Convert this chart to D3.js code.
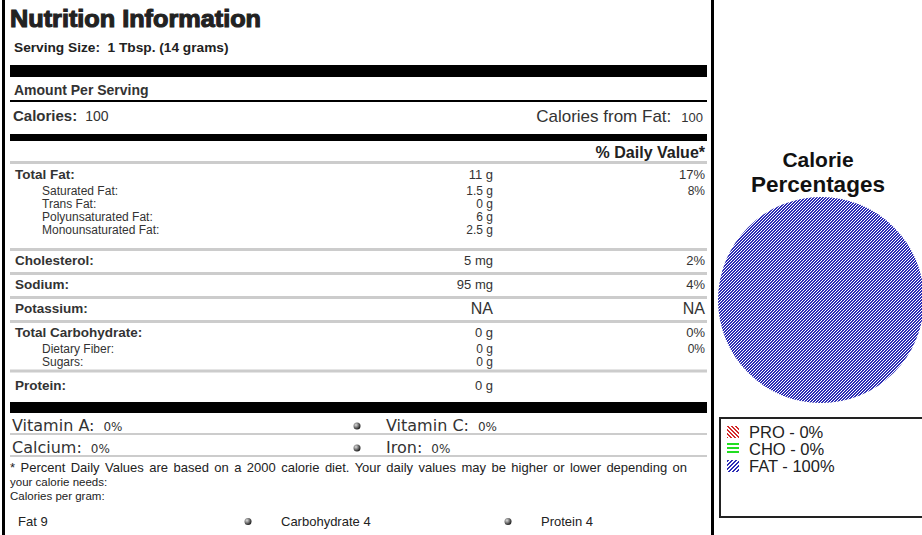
<!DOCTYPE html>
<html>
<head>
<meta charset="utf-8">
<script src="https://cdn.jsdelivr.net/npm/d3@7"></script>
<style>
  body { margin: 0; background: #fff; }
  svg { display: block; font-family: "Liberation Sans", Arial, sans-serif; }
</style>
</head>
<body>
<div id="chart"></div>
<script>
// Label rows
var nutrients = ["Total Fat:", "Saturated Fat:", "Trans Fat:", "Polyunsaturated Fat:", "Monounsaturated Fat:",
                 "Cholesterol:", "Sodium:", "Potassium:", "Total Carbohydrate:", "Dietary Fiber:", "Sugars:", "Protein:"];
var amounts = ["11 g", "1.5 g", "0 g", "6 g", "2.5 g", "5 mg", "95 mg", "NA", "0 g", "0 g", "0 g", "0 g"];
var dailyValues = ["17%", "8%", "", "", "", "2%", "4%", "NA", "0%", "0%", "", ""];
var subRow = [false, true, true, true, true, false, false, false, false, true, true, false];

var vitamins = ["Vitamin A:", "Vitamin C:", "Calcium:", "Iron:"];
var vitaminValues = ["0%", "0%", "0%", "0%"];

var perGram = ["Fat 9", "Carbohydrate 4", "Protein 4"];

var macroLabels = ["PRO", "CHO", "FAT"];
var macroPercents = [0, 0, 100];

var width = 922, height = 535;

var svg = d3.select("#chart").append("svg")
    .attr("width", width)
    .attr("height", height);

var defs = svg.append("defs");

// crisp pixel hatch patterns: test(x, y) says which pixels are coloured
function hatch(id, color, n, test) {
  var p = defs.append("pattern")
      .attr("id", id)
      .attr("patternUnits", "userSpaceOnUse")
      .attr("width", n).attr("height", n);
  p.append("rect").attr("width", n).attr("height", n).attr("fill", "#fff");
  for (var x = 0; x < n; x++) {
    for (var y = 0; y < n; y++) {
      if (test(x, y)) {
        p.append("rect").attr("x", x).attr("y", y).attr("width", 1).attr("height", 1)
          .attr("fill", color).attr("shape-rendering", "crispEdges");
      }
    }
  }
}
hatch("hatch-pro", "#d42a2a", 4, function(x, y) { return ((x - y + 8) % 4) < 2; });
hatch("hatch-cho", "#22dd22", 4, function(x, y) { return y % 4 < 2; });
hatch("hatch-fat", "#2d2db5", 3, function(x, y) { return ((x + y) % 3) < 2; });
hatch("hatch-fat-key", "#2d2db5", 4, function(x, y) { return ((x + y) % 4) < 2; });

var bullet = defs.append("radialGradient").attr("id", "bullet")
    .attr("cx", "35%").attr("cy", "35%").attr("r", "65%");
bullet.append("stop").attr("offset", "0%").attr("stop-color", "#ddd");
bullet.append("stop").attr("offset", "100%").attr("stop-color", "#222");

// frame lines
svg.append("rect").attr("x", 2).attr("y", 0).attr("width", 3).attr("height", height).attr("fill", "#000");
svg.append("rect").attr("x", 711).attr("y", 0).attr("width", 3).attr("height", height).attr("fill", "#000");

var left = 10, right = 707;

svg.append("text")
    .attr("x", 10).attr("y", 27)
    .attr("font-size", 24).attr("font-weight", 900)
    .attr("textLength", 251).attr("lengthAdjust", "spacingAndGlyphs")
    .attr("fill", "#222").attr("stroke", "#222").attr("stroke-width", 1.1)
    .text("Nutrition Information");

svg.append("text")
    .attr("x", 14).attr("y", 52)
    .attr("font-size", 13.7).attr("font-weight", "bold").attr("fill", "#222")
    .attr("xml:space", "preserve")
    .text("Serving Size:  1 Tbsp. (14 grams)");

svg.append("rect").attr("x", left).attr("y", 65).attr("width", right - left).attr("height", 12).attr("fill", "#000");

svg.append("text")
    .attr("x", 14).attr("y", 95)
    .attr("font-size", 14).attr("font-weight", "bold").attr("fill", "#333")
    .text("Amount Per Serving");

svg.append("rect").attr("x", left).attr("y", 100).attr("width", right - left).attr("height", 2).attr("fill", "#000");

var cal = svg.append("text").attr("x", 13).attr("y", 121).attr("fill", "#333");
cal.append("tspan").attr("font-size", 15).attr("font-weight", "bold").text("Calories:");
cal.append("tspan").attr("font-size", 14).attr("dx", 8).text("100");

var calFat = svg.append("text").attr("x", 703).attr("y", 122).attr("text-anchor", "end").attr("fill", "#333");
calFat.append("tspan").attr("font-size", 17).text("Calories from Fat:");
calFat.append("tspan").attr("font-size", 13).attr("dx", 10).text("100");

svg.append("rect").attr("x", left).attr("y", 134).attr("width", right - left).attr("height", 7).attr("fill", "#000");

svg.append("text")
    .attr("x", 705).attr("y", 158).attr("text-anchor", "end")
    .attr("font-size", 16).attr("font-weight", "bold").attr("fill", "#222")
    .text("% Daily Value*");

svg.append("rect").attr("x", left).attr("y", 161).attr("width", right - left).attr("height", 3).attr("fill", "#ccc");

// row positions: text centre per row
var rowCenter = [175, 191, 204, 217, 230, 261, 285, 309, 333, 348.5, 361.5, 386];
var groupLines = [248, 272, 296, 320, 369.5];

var rows = svg.append("g").selectAll("g")
    .data(nutrients)
  .enter().append("g")
    .attr("transform", function(d, i) { return "translate(0," + (rowCenter[i] + 4.3) + ")"; });

rows.append("text")
    .attr("x", function(d, i) { return subRow[i] ? 42 : 15; })
    .attr("font-size", function(d, i) { return subRow[i] ? 12 : 13.5; })
    .attr("font-weight", function(d, i) { return subRow[i] ? "normal" : "bold"; })
    .attr("fill", "#333")
    .text(function(d) { return d; });

rows.append("text")
    .attr("x", 493).attr("text-anchor", "end")
    .attr("font-size", function(d, i) { return amounts[i] === "NA" ? 16 : (subRow[i] ? 12 : 13); })
    .attr("dy", function(d, i) { return amounts[i] === "NA" ? 1 : 0; })
    .attr("fill", "#333")
    .text(function(d, i) { return amounts[i]; });

rows.append("text")
    .attr("x", 705).attr("text-anchor", "end")
    .attr("font-size", function(d, i) { return dailyValues[i] === "NA" ? 16 : (subRow[i] ? 12 : 13); })
    .attr("dy", function(d, i) { return dailyValues[i] === "NA" ? 1 : 0; })
    .attr("fill", "#333")
    .text(function(d, i) { return dailyValues[i]; });

svg.append("g").selectAll("rect")
    .data(groupLines)
  .enter().append("rect")
    .attr("x", left).attr("y", function(d) { return d; })
    .attr("width", right - left).attr("height", 3).attr("fill", "#ccc");

svg.append("rect").attr("x", left).attr("y", 402).attr("width", right - left).attr("height", 11).attr("fill", "#000");

// vitamins, two per row
var vit = svg.append("g").selectAll("g")
    .data(vitamins)
  .enter().append("g")
    .attr("transform", function(d, i) {
      return "translate(" + (i % 2 ? 386 : 12) + "," + (i < 2 ? 431 : 453) + ")";
    });

vit.each(function(d, i) {
  var t = d3.select(this).append("text").attr("fill", "#333").attr("font-family", "DejaVu Sans");
  t.append("tspan").attr("font-size", 16).text(d);
  t.append("tspan").attr("font-size", 12).attr("dx", 9).text(vitaminValues[i]);
  if (i % 2) {
    d3.select(this).append("circle").attr("cx", -29).attr("cy", -5).attr("r", 3.5).attr("fill", "url(#bullet)");
  }
});

svg.append("rect").attr("x", left).attr("y", 433).attr("width", right - left).attr("height", 2).attr("fill", "#ccc");
svg.append("rect").attr("x", left).attr("y", 455).attr("width", right - left).attr("height", 2).attr("fill", "#ccc");

// footnote, first line justified to the column width
var foot = ["* Percent Daily Values are based on a 2000 calorie diet. Your daily values may be higher or lower depending on",
            "your calorie needs:",
            "Calories per gram:"];
svg.append("g").selectAll("text")
    .data(foot)
  .enter().append("text")
    .attr("x", 10).attr("y", function(d, i) { return 472 + i * 14; })
    .attr("font-size", function(d, i) { return i === 0 ? 13 : 11.5; })
    .attr("fill", "#222")
    .text(function(d) { return d; })
    .each(function(d, i) {
      if (i === 0) {
        var natural = this.getComputedTextLength();
        var spaces = d.split(" ").length - 1;
        d3.select(this).attr("word-spacing", (677 - natural) / spaces);
      }
    });

var gramX = [18, 281, 541];
var pg = svg.append("g").selectAll("g")
    .data(perGram)
  .enter().append("g")
    .attr("transform", function(d, i) { return "translate(" + gramX[i] + ",526)"; });
pg.append("text").attr("font-size", 13).attr("fill", "#222").text(function(d) { return d; });
pg.filter(function(d, i) { return i > 0; })
  .append("circle").attr("cx", -33).attr("cy", -4.5).attr("r", 3.5).attr("fill", "url(#bullet)");

// pie
var cx = 821, cy = 300, r = 103;

var pieTitle = svg.append("text")
    .attr("text-anchor", "middle")
    .attr("font-weight", "bold").attr("fill", "#111");
pieTitle.append("tspan").attr("x", 818).attr("y", 167).attr("font-size", 21).text("Calorie");
pieTitle.append("tspan").attr("x", 818).attr("y", 192).attr("font-size", 22.5).text("Percentages");

var pie = d3.pie().sort(null)(macroPercents);
var arc = d3.arc().innerRadius(0).outerRadius(r);

svg.append("g")
    .attr("transform", "translate(" + cx + "," + cy + ")")
  .selectAll("path")
    .data(pie)
  .enter().append("path")
    .attr("d", arc)
    .attr("fill", function(d, i) { return "url(#hatch-" + macroLabels[i].toLowerCase() + ")"; });

// legend
svg.append("rect")
    .attr("x", 720).attr("y", 418).attr("width", 215).attr("height", 99)
    .attr("fill", "#fff").attr("stroke", "#222").attr("stroke-width", 2);

var leg = svg.append("g").selectAll("g")
    .data(macroLabels)
  .enter().append("g")
    .attr("transform", function(d, i) { return "translate(727," + (426 + i * 17) + ")"; });

leg.append("rect")
    .attr("width", 12).attr("height", 12)
    .attr("fill", function(d) { return d === "FAT" ? "url(#hatch-fat-key)" : "url(#hatch-" + d.toLowerCase() + ")"; });

leg.append("text")
    .attr("x", 22).attr("y", 12)
    .attr("font-size", 16.5).attr("fill", "#222")
    .text(function(d, i) { return d + " - " + macroPercents[i] + "%"; });
</script>
</body>
</html>
